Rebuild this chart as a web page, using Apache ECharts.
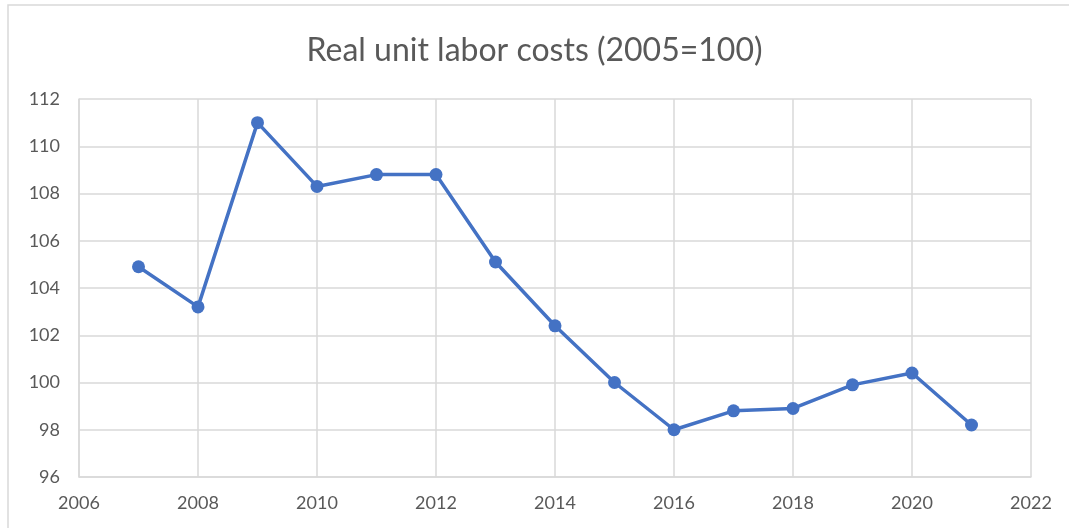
<!DOCTYPE html>
<html>
<head>
<meta charset="utf-8">
<script src="https://cdn.jsdelivr.net/npm/echarts@6/dist/echarts.min.js"></script>
<style>
  html, body { margin: 0; padding: 0; background: #fff; }
  #main { width: 1069px; height: 528px; }
</style>
</head>
<body>
<div id="main"></div>
<script>
// data
var years = [2007, 2008, 2009, 2010, 2011, 2012, 2013, 2014, 2015, 2016, 2017, 2018, 2019, 2020, 2021];
var costs = [104.9, 103.2, 111.0, 108.3, 108.8, 108.8, 105.1, 102.4, 100.0, 98.0, 98.8, 98.9, 99.9, 100.4, 98.2];

var chart = echarts.init(document.getElementById('main'));

var points = years.map(function (y, i) { return [y, costs[i]]; });

var option = {
	animation: false,
	textStyle: { fontFamily: 'Lato' },
	title: {
		text: 'Real unit labor costs (2005=100)',
		left: 'center',
		top: 30,
		textStyle: { fontFamily: 'Lato', fontSize: 32, fontWeight: 'normal', color: '#595959' }
	},
	graphic: [{
		type: 'rect',
		shape: { x: 8, y: 5, width: 1100, height: 560 },
		style: { fill: 'none', stroke: '#d9d9d9', lineWidth: 1.5 },
		silent: true
	}],
	grid: { left: 79, right: 38, top: 99, bottom: 51 },
	xAxis: {
		type: 'value',
		min: 2006,
		max: 2022,
		interval: 2,
		axisLine: { show: true, lineStyle: { color: '#d9d9d9', width: 1.5 } },
		axisTick: { show: false },
		splitLine: { show: true, lineStyle: { color: '#d9d9d9', width: 1.5 } },
		axisLabel: {
			color: '#595959', fontSize: 18, margin: 17,
			formatter: function (v) { return String(v); }
		}
	},
	yAxis: {
		type: 'value',
		min: 96,
		max: 112,
		interval: 2,
		axisLine: { show: true, lineStyle: { color: '#d9d9d9', width: 1.5 } },
		axisTick: { show: false },
		splitLine: { show: true, lineStyle: { color: '#d9d9d9', width: 1.5 } },
		axisLabel: { color: '#595959', fontSize: 18, margin: 19 }
	},
	series: [{
		type: 'line',
		data: points,
		symbol: 'circle',
		symbolSize: 13,
		lineStyle: { color: '#4472C4', width: 3.5 },
		itemStyle: { color: '#4472C4' }
	}]
};

chart.setOption(option);
</script>
</body>
</html>
